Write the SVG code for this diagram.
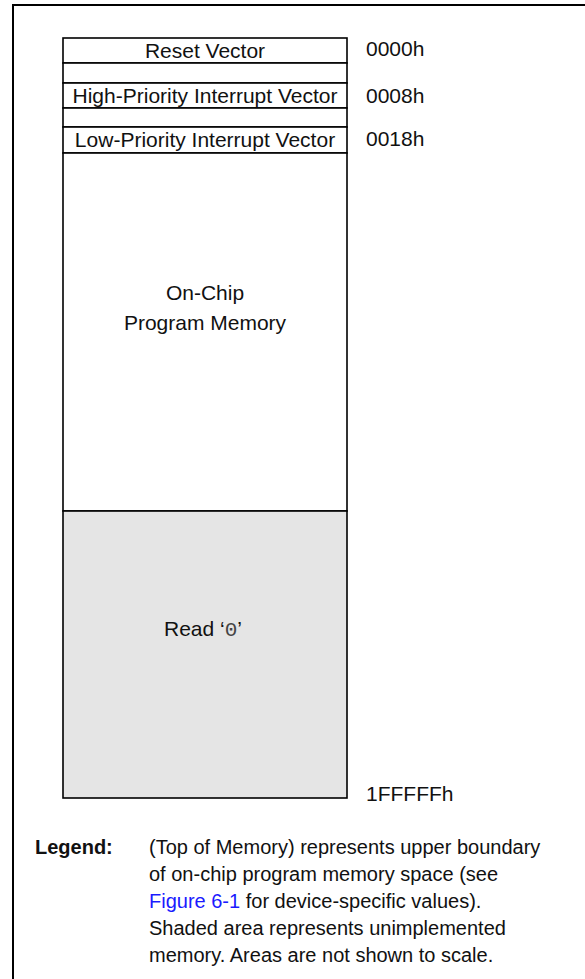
<svg xmlns="http://www.w3.org/2000/svg" width="585" height="979" viewBox="0 0 585 979">
<style>
text{font-family:"Liberation Sans",Arial,sans-serif;font-size:21px;fill:#111}
.c{text-anchor:middle}
.box{fill:#fff;stroke:#000;stroke-width:1.6}
.sh{fill:#e5e5e5;stroke:#000;stroke-width:1.6}
.lg{font-size:20px}
.b{font-weight:bold}
.mono{font-family:"Liberation Mono","Courier New",monospace;fill:#444}
.link{fill:#1a1aff}
</style>
<rect width="585" height="979" fill="#fff"/>
<g id="frame">
<path d="M13,979 V5 H585" fill="none" stroke="#000" stroke-width="2"/>
</g>
<g id="memory-map">
<g id="reset-vector"><rect class="box" x="63" y="38" width="284" height="25"/><text class="c" x="205" y="58">Reset Vector</text></g>
<g id="gap1"><rect class="box" x="63" y="63" width="284" height="20"/></g>
<g id="high-priority"><rect class="box" x="63" y="83" width="284" height="25"/><text class="c" x="205" y="103">High-Priority Interrupt Vector</text></g>
<g id="gap2"><rect class="box" x="63" y="108" width="284" height="19"/></g>
<g id="low-priority"><rect class="box" x="63" y="127" width="284" height="26"/><text class="c" x="205" y="147">Low-Priority Interrupt Vector</text></g>
<g id="on-chip"><rect class="box" x="63" y="153" width="284" height="358"/><text class="c" x="205" y="300">On-Chip</text><text class="c" x="205" y="330">Program Memory</text></g>
<g id="unimplemented"><rect class="sh" x="63" y="511" width="284" height="287"/><text x="164" y="636">Read ‘<tspan class="mono">0</tspan>’</text></g>
</g>
<g id="addresses">
<text x="366" y="56">0000h</text>
<text x="366" y="103">0008h</text>
<text x="366" y="146">0018h</text>
<text x="366" y="801">1FFFFFh</text>
</g>
<g id="legend" class="lg">
<text class="b lg" x="35" y="854">Legend:</text>
<text class="lg" x="149" y="854">(Top of Memory) represents upper boundary</text>
<text class="lg" x="149" y="881">of on-chip program memory space (see</text>
<text class="lg" x="149" y="908"><tspan class="link">Figure 6-1</tspan> for device-specific values).</text>
<text class="lg" x="149" y="935">Shaded area represents unimplemented</text>
<text class="lg" x="149" y="962">memory. Areas are not shown to scale.</text>
</g>
<g id="connectors"></g>
</svg>
